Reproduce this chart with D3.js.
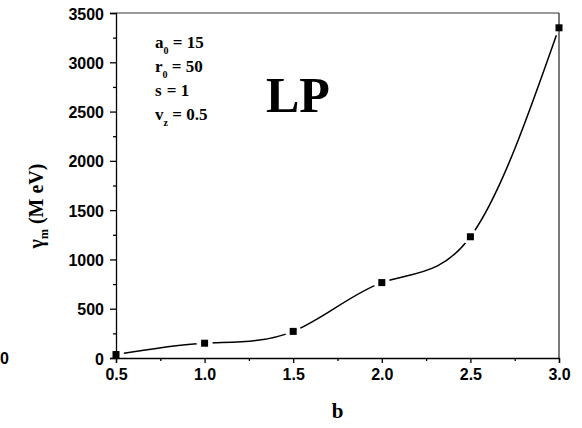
<!DOCTYPE html>
<html><head><meta charset="utf-8">
<script src="https://cdn.jsdelivr.net/npm/d3@7"></script>
<style>body{margin:0;background:#fff}svg{display:block}</style>
</head><body>
<script>
const bValues = [0.5, 1.0, 1.5, 2.0, 2.5, 3.0];
const gammaValues = [35, 150, 270, 765, 1230, 3350];
const xTicks = [0.5, 1.0, 1.5, 2.0, 2.5, 3.0];
const yTicks = [0, 500, 1000, 1500, 2000, 2500, 3000, 3500];
const params = [["a","0"," = 15"],["r","0"," = 50"],["s",""," = 1"],["v","z"," = 0.5"]];

const W = 582, H = 428;
const m = {l:116, r:23, t:13, b:70};
const svg = d3.select("body").append("svg").attr("width",W).attr("height",H);
const x = d3.scaleLinear().domain([0.5,3.0]).range([m.l, W-m.r]);
const y = d3.scaleLinear().domain([0,3500]).range([H-m.b, m.t]);

const tickFont = "bold 16px Arial, 'Liberation Sans', sans-serif";

// frame top / right
svg.append("line").attr("x1",x(0.5)).attr("x2",x(3.0)).attr("y1",y(3500)).attr("y2",y(3500)).attr("stroke","#777").attr("stroke-width",1.5);
svg.append("line").attr("x1",x(3.0)).attr("x2",x(3.0)).attr("y1",y(3500)).attr("y2",y(0)).attr("stroke","#222").attr("stroke-width",1.2);

// x axis
const xAxis = svg.append("g").attr("transform",`translate(0,${y(0)})`)
  .call(d3.axisBottom(x).tickValues(xTicks).tickFormat(d3.format(".1f")).tickSize(5).tickPadding(3));
svg.append("g").attr("transform",`translate(0,${y(0)})`)
  .call(d3.axisBottom(x).tickValues([0.75,1.25,1.75,2.25,2.75]).tickFormat("").tickSize(3))
  .select(".domain").remove();
// y axis
const yAxis = svg.append("g").attr("transform",`translate(${x(0.5)},0)`)
  .call(d3.axisLeft(y).tickValues(yTicks).tickFormat(d3.format("d")).tickSize(6).tickPadding(6));
svg.append("g").attr("transform",`translate(${x(0.5)},0)`)
  .call(d3.axisLeft(y).tickValues([250,750,1250,1750,2250,2750,3250]).tickFormat("").tickSize(3))
  .select(".domain").remove();
svg.selectAll(".tick text").style("font",tickFont).attr("fill","#000");
svg.selectAll(".domain, .tick line").attr("stroke","#000").attr("stroke-width",1.3);
xAxis.selectAll(".tick text").attr("dy","0.9em");
yAxis.selectAll(".tick text").attr("dy","0.38em");

// stray "0" label at far left
svg.append("text").attr("x",0).attr("y",y(0)+6).text("0").style("font",tickFont);

// curve with gaps around markers
const defs = svg.append("defs");
const mask = defs.append("mask").attr("id","gapmask");
mask.append("rect").attr("x",0).attr("y",0).attr("width",W).attr("height",H).attr("fill","#fff");
mask.selectAll("circle").data(bValues).enter().append("circle")
  .attr("cx",(d)=>x(d)).attr("cy",(d,i)=>y(gammaValues[i])).attr("r",8).attr("fill","#000");

const pts = bValues.map((b,i)=>[b,gammaValues[i]]);
const line = d3.line().x(d=>x(d[0])).y(d=>y(d[1])).curve(d3.curveNatural);
svg.append("path").attr("d",line(pts)).attr("fill","none").attr("stroke","#000").attr("stroke-width",1.5).attr("mask","url(#gapmask)");

svg.selectAll("rect.mk").data(pts).enter().append("rect").attr("class","mk")
  .attr("x",d=>x(d[0])-3.5).attr("y",d=>y(d[1])-3.5).attr("width",7).attr("height",7).attr("fill","#000");

// axis labels
const serif = "'Times New Roman', 'Liberation Serif', 'DejaVu Serif', serif";
svg.append("text").attr("x",x(1.75)).attr("y",418).attr("text-anchor","middle")
  .style("font",`bold 21px ${serif}`).text("b");
const yl = svg.append("text").attr("transform",`translate(43,206) rotate(-90)`)
  .attr("text-anchor","middle").style("font",`bold 20px ${serif}`);
yl.append("tspan").text("γ");
yl.append("tspan").attr("dy",5).style("font-size","12px").text("m");
yl.append("tspan").attr("dy",-5).text(" (M eV)");

// parameter annotation
params.forEach((p,i)=>{
  const t = svg.append("text").attr("x",155).attr("y",48+i*24).style("font",`bold 17px ${serif}`);
  t.append("tspan").text(p[0]);
  t.append("tspan").attr("dy",6).style("font-size","10px").text(p[1] || "\u200A");
  t.append("tspan").attr("dy",-6).text(p[2]);
});
svg.append("text").attr("x",266).attr("y",112).style("font",`bold 50px ${serif}`).text("LP");
</script>
</body></html>
